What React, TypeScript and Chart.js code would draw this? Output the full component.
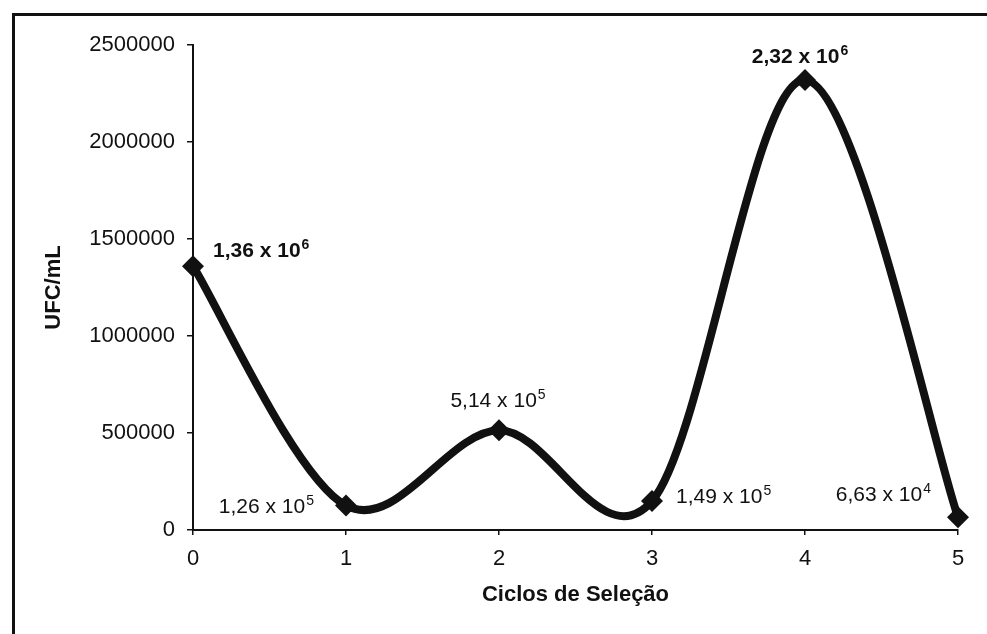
import { useEffect, useRef } from "react";
import { Chart, registerables } from "chart.js";

Chart.register(...registerables);

// ---- data ----
const cycles = [0, 1, 2, 3, 4, 5];
const ufcPerMl = [1360000, 126000, 514000, 149000, 2320000, 66300];
const labelMantissa = ["1,36", "1,26", "5,14", "1,49", "2,32", "6,63"];
const labelExponent = ["6", "5", "5", "5", "6", "4"];
const labelBold = [true, false, false, false, true, false];
const yTickValues = [0, 500000, 1000000, 1500000, 2000000, 2500000];
const xTickValues = [0, 1, 2, 3, 4, 5];
const xTitle = "Ciclos de Seleção";
const yTitle = "UFC/mL";

const FONT = "'Liberation Sans', Arial, Helvetica, sans-serif";
const INK = "#111111";

// annotation placement relative to each point (style, not data)
const placements = [
  { dx: 20, dy: -9, align: "left" },
  { dx: -32, dy: 7, align: "right" },
  { dx: -1, dy: -23, align: "center" },
  { dx: 24, dy: 2, align: "left" },
  { dx: -5, dy: -17, align: "center" },
  { dx: -27, dy: -16, align: "right" },
];

const framePlugin = {
  id: "frame",
  beforeDraw(chart: any) {
    const ctx = chart.ctx;
    ctx.save();
    ctx.fillStyle = "#ffffff";
    ctx.fillRect(0, 0, chart.width, chart.height);
    ctx.fillStyle = INK;
    ctx.fillRect(12, 13, chart.width - 12, 3);
    ctx.fillRect(12, 13, 3, chart.height - 13);
    ctx.restore();
  },
};

// Excel-style smoothed line: uniform Catmull-Rom control points from the scale pixels
const splinePlugin = {
  id: "excelSpline",
  beforeDatasetsDraw(chart: any) {
    const meta = chart.getDatasetMeta(0);
    const line = meta.dataset;
    if (line && line.updateControlPoints) line.updateControlPoints(chart.chartArea, "x");
    const pts = meta.data;
    const n = pts.length;
    for (let i = 0; i < n; i++) {
      const prev = pts[Math.max(0, i - 1)];
      const next = pts[Math.min(n - 1, i + 1)];
      const cur = pts[i];
      const tx = (next.x - prev.x) / 6;
      const ty = (next.y - prev.y) / 6;
      cur.cp1x = cur.x - tx;
      cur.cp1y = cur.y - ty;
      cur.cp2x = cur.x + tx;
      cur.cp2y = cur.y + ty;
    }
    if (line) line._path = undefined;
  },
};

const labelPlugin = {
  id: "pointLabels",
  afterDatasetsDraw(chart: any) {
    const ctx = chart.ctx;
    const meta = chart.getDatasetMeta(0);
    ctx.save();
    ctx.fillStyle = INK;
    ctx.textBaseline = "alphabetic";
    meta.data.forEach((pt: any, i: number) => {
      const p = placements[i];
      const weight = labelBold[i] ? "bold " : "";
      const mainFont = `${weight}21px ${FONT}`;
      const supFont = `${weight}14px ${FONT}`;
      const base = `${labelMantissa[i]} x 10`;
      const sup = labelExponent[i];
      ctx.font = mainFont;
      const wBase = ctx.measureText(base).width;
      ctx.font = supFont;
      const wSup = ctx.measureText(sup).width;
      const total = wBase + wSup + 1;
      const ax = pt.x + p.dx;
      let x0 = ax;
      if (p.align === "right") x0 = ax - total;
      else if (p.align === "center") x0 = ax - total / 2;
      const by = pt.y + p.dy;
      ctx.textAlign = "left";
      ctx.font = mainFont;
      ctx.fillText(base, x0, by);
      ctx.font = supFont;
      ctx.fillText(sup, x0 + wBase + 1, by - 8);
    });
    ctx.restore();
  },
};

export default function App() {
  const ref = useRef<HTMLCanvasElement | null>(null);

  useEffect(() => {
    if (!ref.current) return;
    const chart = new Chart(ref.current, {
      type: "line",
      data: {
        datasets: [
          {
            data: cycles.map((c, i) => ({ x: c, y: ufcPerMl[i] })),
            borderColor: INK,
            backgroundColor: INK,
            borderWidth: 8,
            tension: 0.4,
            capBezierPoints: false,
            pointStyle: "rectRot",
            pointRadius: 11,
            pointBorderWidth: 0,
            fill: false,
            clip: false as any,
          },
        ],
      },
      options: {
        animation: false,
        responsive: false,
        devicePixelRatio: 1,
        plugins: {
          legend: { display: false },
          tooltip: { enabled: false },
        },
        layout: { padding: { top: 45, right: 29, left: 20, bottom: 10 } },
        scales: {
          x: {
            type: "linear",
            min: 0,
            max: 5,
            afterBuildTicks: (s: any) => {
              s.ticks = xTickValues.map((v) => ({ value: v }));
            },
            afterFit: (s: any) => {
              s.height = 94;
            },
            grid: {
              drawOnChartArea: false,
              drawTicks: true,
              tickLength: 5,
              tickColor: INK,
              lineWidth: 1.5,
            },
            border: { display: true, color: INK, width: 2 },
            ticks: {
              color: INK,
              padding: 11,
              font: { family: FONT, size: 22 },
              callback: (v: any) => String(v),
            },
            title: {
              display: true,
              text: xTitle,
              color: INK,
              font: { family: FONT, size: 22, weight: "bold" },
              padding: { top: 0, bottom: 16 },
            },
          },
          y: {
            type: "linear",
            min: 0,
            max: 2500000,
            afterBuildTicks: (s: any) => {
              s.ticks = yTickValues.map((v) => ({ value: v }));
            },
            afterFit: (s: any) => {
              s.width = 173;
            },
            grid: {
              drawOnChartArea: false,
              drawTicks: true,
              tickLength: 6,
              tickColor: INK,
              lineWidth: 1.5,
            },
            border: { display: true, color: INK, width: 2 },
            ticks: {
              color: INK,
              padding: 12,
              font: { family: FONT, size: 22 },
              callback: (v: any) => String(v),
            },
            title: {
              display: true,
              text: yTitle,
              color: INK,
              font: { family: FONT, size: 22, weight: "bold" },
              padding: { top: 21, bottom: 0 },
            },
          },
        },
      },
      plugins: [framePlugin, splinePlugin, labelPlugin],
    } as any);
    return () => chart.destroy();
  }, []);

  return (
    <div
      style={{
        position: "fixed",
        left: 0,
        top: 0,
        width: 987,
        height: 634,
        background: "#fff",
      }}
    >
      <canvas ref={ref} width={987} height={634} style={{ display: "block" }} />
    </div>
  );
}
